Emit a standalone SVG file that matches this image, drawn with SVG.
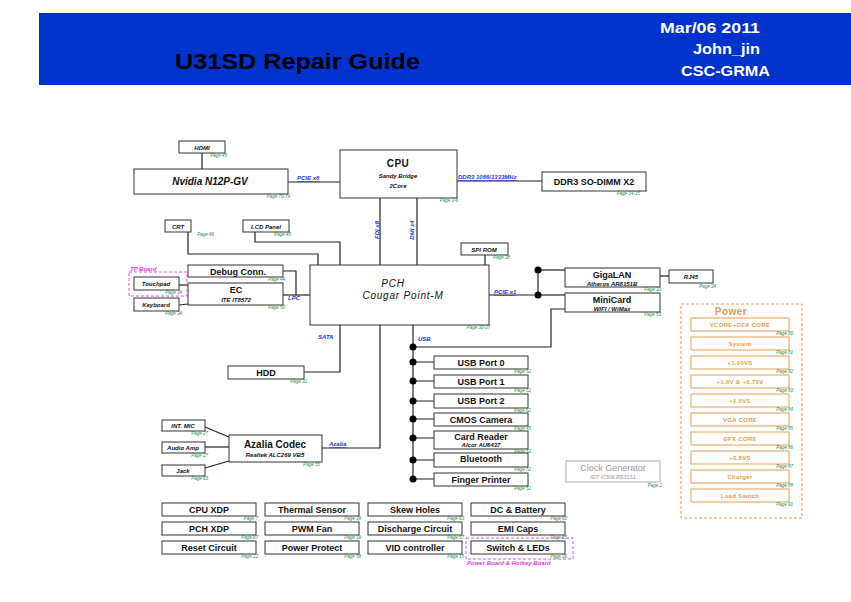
<svg xmlns="http://www.w3.org/2000/svg" width="851" height="602" viewBox="0 0 851 602">
<style>
text{font-family:"Liberation Sans",Arial,sans-serif;}
.bx{fill:#fff;stroke:#333;stroke-width:1;}
.t{font-size:9px;font-weight:bold;fill:#111;text-anchor:middle;}
.tb{font-size:10px;font-weight:bold;fill:#111;text-anchor:middle;}
.s{font-size:6px;font-weight:bold;font-style:italic;fill:#111;text-anchor:middle;}
.pg{font-size:4.5px;font-style:italic;fill:#1f8a3c;text-anchor:end;}
.bus{font-size:6px;font-weight:bold;font-style:italic;fill:#1f35e0;}
.u{text-decoration:underline;}
.w{stroke:#222;stroke-width:1.2;fill:none;}
.dot{fill:#000;}
.pb{fill:#fff;stroke:#e69b55;stroke-width:1;}
.pt{font-size:6px;font-weight:bold;fill:#e69b55;text-anchor:middle;letter-spacing:0.3px;}
.hd{font-weight:bold;fill:#fff;}
</style>

<!-- header -->
<g id="header">
<rect x="39" y="13" width="812" height="72" fill="#0033cc"/>
<text x="175" y="69" font-size="22" font-weight="bold" fill="#000" textLength="245" lengthAdjust="spacingAndGlyphs">U31SD Repair Guide</text>
<text class="hd" x="660" y="33" font-size="14" textLength="100" lengthAdjust="spacingAndGlyphs">Mar/06 2011</text>
<text class="hd" x="693" y="54" font-size="14" textLength="67" lengthAdjust="spacingAndGlyphs">John_jin</text>
<text class="hd" x="681" y="76" font-size="14" textLength="89" lengthAdjust="spacingAndGlyphs">CSC-GRMA</text>
</g>

<!-- connectors -->
<g id="connectors">
<path class="w" d="M202,153V169"/>
<path class="w" d="M288,182H340"/>
<path class="w" d="M457,181H542"/>
<path class="w" d="M380,198V265"/>
<path class="w" d="M417,198V265"/>
<path class="w" d="M188,232V254H318V265"/>
<path class="w" d="M255,232V242H340V265"/>
<path class="w" d="M485,255V265"/>
<path class="w" d="M283,271H296V295"/>
<path class="w" d="M283,295H310"/>
<path class="w" d="M179,285L188,285"/>
<path class="w" d="M179,305L188,304"/>
<path class="w" d="M489,295H538"/>
<path class="w" d="M538,270V295"/>
<path class="w" d="M538,270H565"/>
<path class="w" d="M538,295H565"/>
<path class="w" d="M660,276H669"/>
<path class="w" d="M565,309H551V347H413"/>
<path class="w" d="M340,325V372H304"/>
<path class="w" d="M380,325V448H322"/>
<path class="w" d="M413,325V479"/>
<path class="w" d="M413,362H434M413,381H434M413,401H434M413,419H434M413,438H434M413,460H434M413,479H434"/>
<path class="w" d="M205,427L229,437"/>
<path class="w" d="M205,447H229"/>
<path class="w" d="M205,468L229,461"/>
<circle class="dot" cx="538" cy="270" r="3.5"/>
<circle class="dot" cx="538" cy="295" r="3.5"/>
<circle class="dot" cx="413" cy="347" r="3.5"/>
<circle class="dot" cx="413" cy="362" r="3.5"/>
<circle class="dot" cx="413" cy="381" r="3.5"/>
<circle class="dot" cx="413" cy="401" r="3.5"/>
<circle class="dot" cx="413" cy="419" r="3.5"/>
<circle class="dot" cx="413" cy="438" r="3.5"/>
<circle class="dot" cx="413" cy="460" r="3.5"/>
<circle class="dot" cx="413" cy="479" r="3.5"/>
<text class="bus u" x="297" y="180">PCIE x8</text>
<text class="bus u" x="458" y="179" font-size="5.5">DDR3 1066/1333MHz</text>
<text class="bus" transform="translate(379,230) rotate(-90)" text-anchor="middle">FDI x8</text>
<text class="bus" transform="translate(414,230) rotate(-90)" text-anchor="middle">DMI x4</text>
<text class="bus" x="288" y="300">LPC</text>
<text class="bus u" x="494" y="294">PCIE x1</text>
<text class="bus" x="318" y="339">SATA</text>
<text class="bus" x="418" y="341">USB</text>
<text class="bus u" x="329" y="446">Azalia</text>
</g>

<g id="hdmi"><rect class="bx" x="179" y="141" width="46" height="12"/><text class="s" x="202" y="149.5">HDMI</text><text class="pg" x="227" y="157">Page 45</text></g>
<g id="nvidia"><rect class="bx" x="134" y="169" width="154" height="25"/><text class="tb" x="210" y="185" font-style="italic">Nvidia N12P-GV</text><text class="pg" x="290" y="198">Page 70-79</text></g>
<g id="cpu"><rect class="bx" x="340" y="150" width="117" height="48"/><text class="tb" x="398" y="167" letter-spacing="0.5">CPU</text><text class="s" x="398" y="178">Sandy Bridge</text><text class="s" x="398" y="188" font-style="normal">2Core</text><text class="pg" x="458" y="202">Page 3-6</text></g>
<g id="ddr3"><rect class="bx" x="542" y="172" width="104" height="19"/><text class="t" x="594" y="185" font-size="9.5">DDR3 SO-DIMM X2</text><text class="pg" x="640" y="195">Page 14-15</text></g>
<g id="crt"><rect class="bx" x="165" y="220" width="26" height="12"/><text class="s" x="178" y="228.5">CRT</text><text class="pg" x="214" y="236">Page 46</text></g>
<g id="lcd"><rect class="bx" x="243" y="220" width="46" height="12"/><text class="s" x="266" y="228.5">LCD Panel</text><text class="pg" x="291" y="236">Page 45</text></g>
<g id="spirom"><rect class="bx" x="461" y="243" width="47" height="12"/><text class="s" x="484" y="251.5">SPI ROM</text><text class="pg" x="510" y="259">Page 38</text></g>
<g id="pch"><rect class="bx" x="310" y="265" width="179" height="60"/><text x="393" y="287" font-size="10" font-style="italic" text-anchor="middle" letter-spacing="0.8" fill="#111">PCH</text><text x="403" y="298.5" font-size="10" font-style="italic" text-anchor="middle" letter-spacing="0.8" fill="#111">Cougar Point-M</text><text class="pg" x="490" y="329">Page 30-37</text></g>
<g id="debug"><rect class="bx" x="188" y="265" width="95" height="12"/><text class="t" x="238" y="274.5">Debug Conn.</text><text class="pg" x="285" y="281">Page 44</text></g>
<g id="ec"><rect class="bx" x="188" y="283" width="95" height="22"/><text class="t" x="236" y="293" font-weight="normal" font-size="10">EC</text><text class="s" x="236" y="301.5">ITE IT8572</text><text class="pg" x="285" y="309">Page 50</text></g>
<g id="tpboard"><rect x="129" y="272" width="58" height="24" fill="none" stroke="#e040e0" stroke-width="0.9" stroke-dasharray="3,2"/><text x="130" y="271" font-size="6" font-style="italic" font-weight="bold" fill="#e040e0">TP Board</text></g>
<g id="touchpad"><rect class="bx" x="134" y="277" width="45" height="13"/><text class="s" x="156" y="286" font-size="6.5">Touchpad</text><text class="pg" x="182" y="294">Page 34</text></g>
<g id="keyboard"><rect class="bx" x="134" y="298" width="45" height="13"/><text class="s" x="156" y="307" font-size="6.5">Keyboard</text><text class="pg" x="182" y="315">Page 34</text></g>
<g id="hdd"><rect class="bx" x="228" y="366" width="76" height="13"/><text class="t" x="266" y="375.5">HDD</text><text class="pg" x="307" y="383">Page 31</text></g>
<g id="gigalan"><rect class="bx" x="565" y="268" width="95" height="19"/><text class="t" x="612" y="277.5">GigaLAN</text><text class="s" x="612" y="285.5">Atheros AR8151B</text><text class="pg" x="661" y="291">Page 33</text></g>
<g id="rj45"><rect class="bx" x="669" y="270" width="44" height="13"/><text class="s" x="691" y="279">RJ45</text><text class="pg" x="716" y="288">Page 34</text></g>
<g id="minicard"><rect class="bx" x="565" y="293" width="95" height="19"/><text class="t" x="612" y="302.5">MiniCard</text><text class="s" x="612" y="310.5" font-weight="normal">WIFI / WiMax</text><text class="pg" x="661" y="316">Page 53</text></g>
<g id="usb0"><rect class="bx" x="434" y="356" width="94" height="13"/><text class="t" x="481" y="365.5">USB Port 0</text><text class="pg" x="531" y="373">Page 52</text></g>
<g id="usb1"><rect class="bx" x="434" y="375" width="94" height="13"/><text class="t" x="481" y="384.5">USB Port 1</text><text class="pg" x="531" y="392">Page 52</text></g>
<g id="usb2"><rect class="bx" x="434" y="394" width="94" height="14"/><text class="t" x="481" y="404">USB Port 2</text><text class="pg" x="531" y="412">Page 62</text></g>
<g id="cmos"><rect class="bx" x="434" y="413" width="94" height="13"/><text class="t" x="481" y="422.5">CMOS Camera</text><text class="pg" x="531" y="430">Page 45</text></g>
<g id="cardreader"><rect class="bx" x="434" y="431" width="94" height="18"/><text class="t" x="481" y="439.5">Card Reader</text><text class="s" x="481" y="447">Alcor AU6437</text><text class="pg" x="531" y="453">Page 51</text></g>
<g id="bluetooth"><rect class="bx" x="434" y="453" width="94" height="14"/><text class="t" x="481" y="462">Bluetooth</text><text class="pg" x="531" y="471">Page 51</text></g>
<g id="finger"><rect class="bx" x="434" y="473" width="94" height="13"/><text class="t" x="481" y="482.5">Finger Printer</text><text class="pg" x="531" y="490">Page 51</text></g>
<g id="clockgen"><rect x="566" y="461" width="94" height="21" fill="#fff" stroke="#aaa" stroke-width="1"/><text x="613" y="471" font-size="9" text-anchor="middle" fill="#999">Clock Generator</text><text x="613" y="479" font-size="5.5" font-style="italic" text-anchor="middle" fill="#999">IDT ICS9LRS3161</text><text class="pg" x="662" y="487">Page 2</text></g>
<g id="azalia"><rect class="bx" x="229" y="435" width="93" height="27"/><text class="tb" x="275" y="448">Azalia Codec</text><text class="s" x="275" y="457">Realtek ALC269 VB5</text><text class="pg" x="320" y="466">Page 55</text></g>
<g id="intmic"><rect class="bx" x="162" y="420" width="43" height="11"/><text class="s" x="183" y="428">INT. MIC</text><text class="pg" x="208" y="435">Page 27</text></g>
<g id="audioamp"><rect class="bx" x="162" y="442" width="43" height="11"/><text class="s" x="183" y="450">Audio Amp</text><text class="pg" x="208" y="457">Page 27</text></g>
<g id="jack"><rect class="bx" x="162" y="465" width="43" height="11"/><text class="s" x="183" y="473">Jack</text><text class="pg" x="208" y="480">Page 60</text></g>

<g id="power">
<rect x="681" y="304" width="121" height="214" fill="none" stroke="#e69b55" stroke-width="1" stroke-dasharray="3,2"/>
<text x="731" y="315" font-size="10" font-weight="bold" text-anchor="middle" fill="#e69b55" letter-spacing="0.5">Power</text>
<rect class="pb" x="691" y="318" width="98" height="13"/><text class="pt" x="740" y="327">VCORE+GFX CORE</text><text class="pg" x="793" y="335">Page 80</text>
<rect class="pb" x="691" y="337" width="98" height="13"/><text class="pt" x="740" y="346">System</text><text class="pg" x="793" y="354">Page 81</text>
<rect class="pb" x="691" y="356" width="98" height="13"/><text class="pt" x="740" y="365">+1.05VS</text><text class="pg" x="793" y="373">Page 82</text>
<rect class="pb" x="691" y="375" width="98" height="13"/><text class="pt" x="740" y="384">+1.8V &amp; +0.75V</text><text class="pg" x="793" y="392">Page 83</text>
<rect class="pb" x="691" y="394" width="98" height="13"/><text class="pt" x="740" y="403">+1.5VS</text><text class="pg" x="793" y="411">Page 84</text>
<rect class="pb" x="691" y="413" width="98" height="13"/><text class="pt" x="740" y="422">VGA CORE</text><text class="pg" x="793" y="430">Page 85</text>
<rect class="pb" x="691" y="432" width="98" height="13"/><text class="pt" x="740" y="441">GFX CORE</text><text class="pg" x="793" y="449">Page 86</text>
<rect class="pb" x="691" y="451" width="98" height="13"/><text class="pt" x="740" y="460">+0.8VS</text><text class="pg" x="793" y="468">Page 87</text>
<rect class="pb" x="691" y="470" width="98" height="13"/><text class="pt" x="740" y="479">Charger</text><text class="pg" x="793" y="487">Page 88</text>
<rect class="pb" x="691" y="489" width="98" height="13"/><text class="pt" x="740" y="498">Load Switch</text><text class="pg" x="793" y="506">Page 91</text>
</g>

<g id="cpuxdp"><rect class="bx" x="162" y="503" width="94" height="13"/><text class="t" x="209" y="512.5">CPU XDP</text><text class="pg" x="258" y="520">Page 7</text></g>
<g id="thermal"><rect class="bx" x="265" y="503" width="94" height="13"/><text class="t" x="312" y="512.5">Thermal Sensor</text><text class="pg" x="361" y="520">Page 39</text></g>
<g id="skew"><rect class="bx" x="368" y="503" width="94" height="13"/><text class="t" x="415" y="512.5">Skew Holes</text><text class="pg" x="464" y="520">Page 63</text></g>
<g id="dcbat"><rect class="bx" x="471" y="503" width="94" height="13"/><text class="t" x="518" y="512.5">DC &amp; Battery</text><text class="pg" x="567" y="520">Page 60</text></g>
<g id="pchxdp"><rect class="bx" x="162" y="522" width="94" height="13"/><text class="t" x="209" y="531.5">PCH XDP</text><text class="pg" x="258" y="539">Page 67</text></g>
<g id="pwmfan"><rect class="bx" x="265" y="522" width="94" height="13"/><text class="t" x="312" y="531.5">PWM Fan</text><text class="pg" x="361" y="539">Page 39</text></g>
<g id="discharge"><rect class="bx" x="368" y="522" width="94" height="13"/><text class="t" x="415" y="531.5">Discharge Circuit</text><text class="pg" x="464" y="539">Page 57</text></g>
<g id="emi"><rect class="bx" x="471" y="522" width="94" height="13"/><text class="t" x="518" y="531.5">EMI Caps</text><text class="pg" x="567" y="539">Page 65</text></g>
<g id="reset"><rect class="bx" x="162" y="541" width="94" height="13"/><text class="t" x="209" y="550.5">Reset Circuit</text><text class="pg" x="258" y="558">Page 22</text></g>
<g id="powerprotect"><rect class="bx" x="265" y="541" width="94" height="13"/><text class="t" x="312" y="550.5">Power Protect</text><text class="pg" x="361" y="558">Page 58</text></g>
<g id="vid"><rect class="bx" x="368" y="541" width="94" height="13"/><text class="t" x="415" y="550.5">VID controller</text><text class="pg" x="464" y="558">Page 15</text></g>
<g id="switchleds"><rect class="bx" x="471" y="541" width="94" height="13"/><text class="t" x="518" y="550.5">Switch &amp; LEDs</text><text class="pg" x="567" y="558">Page 36</text></g>
<g id="powerboard"><rect x="466" y="538" width="107" height="21" fill="none" stroke="#e040e0" stroke-width="0.9" stroke-dasharray="3,2"/><text x="467" y="565" font-size="6" font-style="italic" font-weight="bold" fill="#e040e0">Power Board &amp; Hotkey Board</text></g>
</svg>
